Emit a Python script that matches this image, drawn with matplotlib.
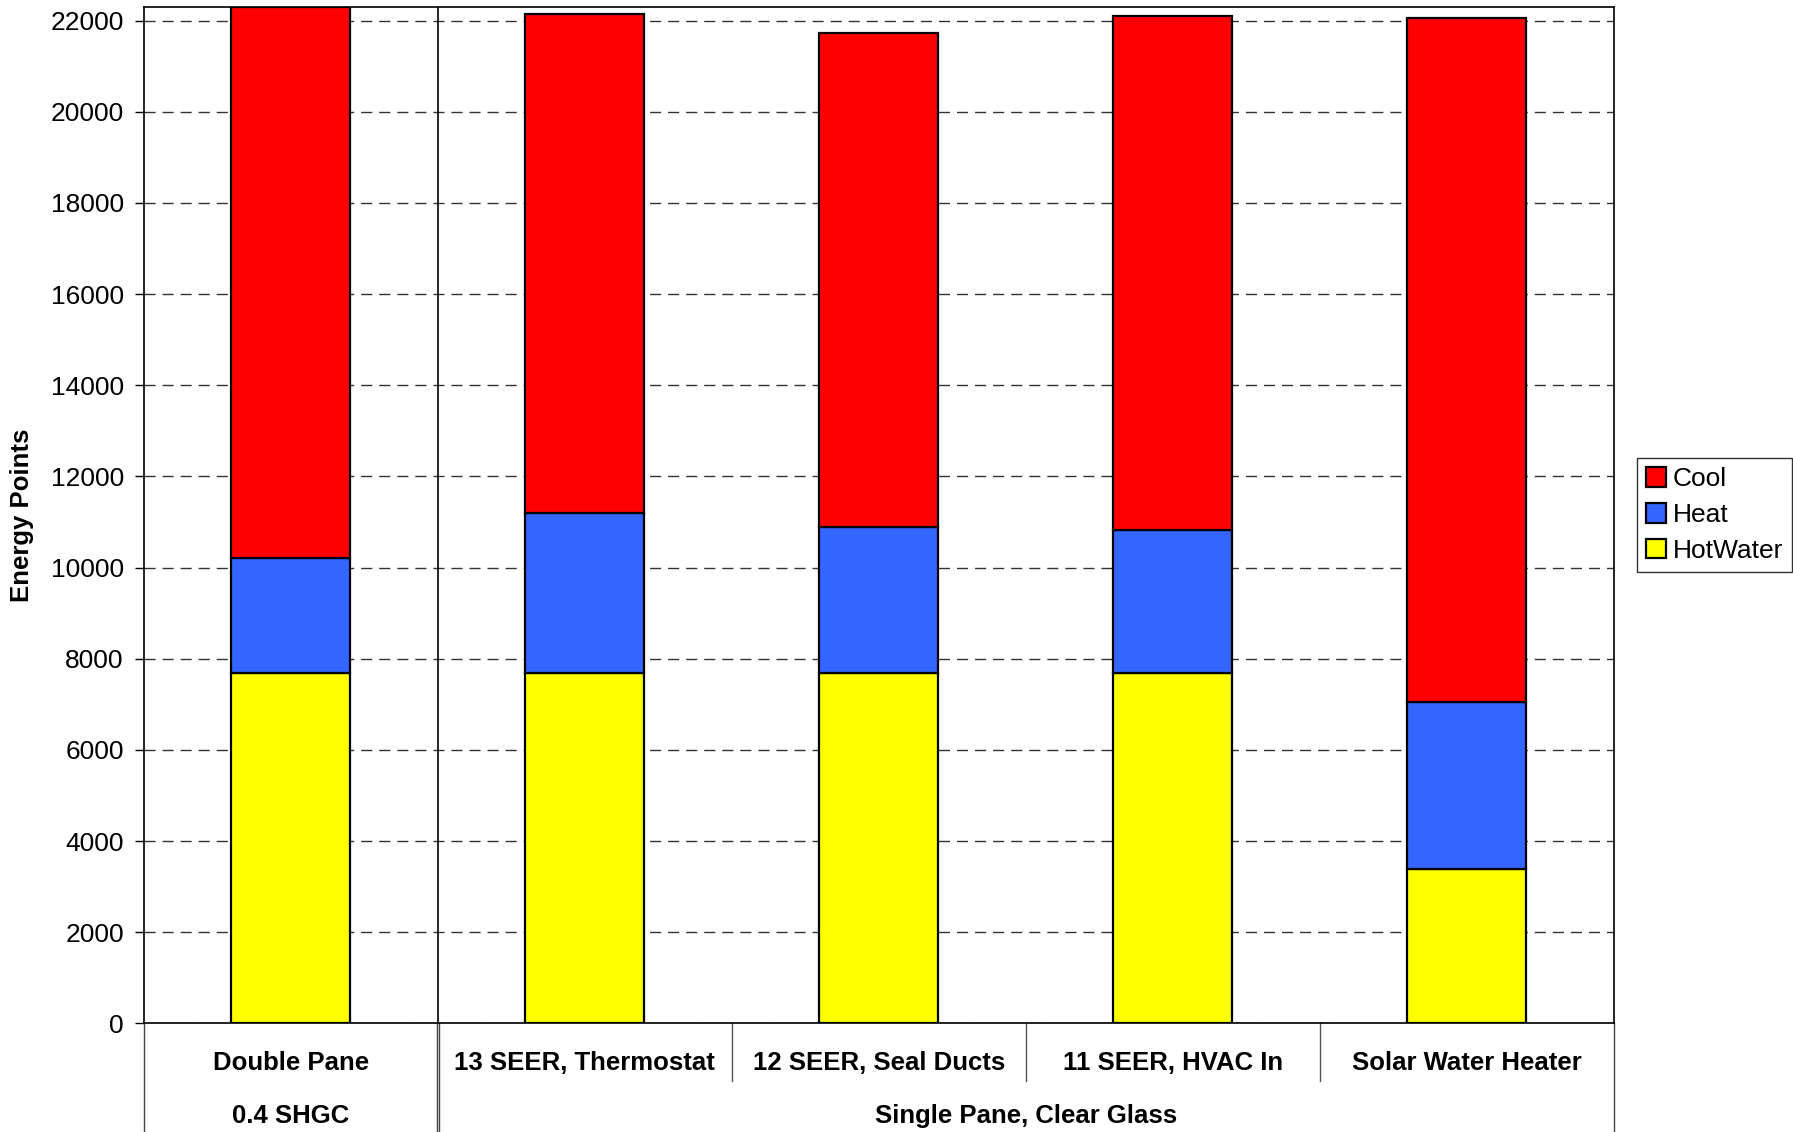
import matplotlib
matplotlib.use('Agg')
import matplotlib.pyplot as plt
import numpy as np

plt.rcParams['font.family'] = ['Liberation Sans', 'DejaVu Sans']

# upgrade options and their energy points per end use
options = ['Double Pane', '13 SEER, Thermostat', '12 SEER, Seal Ducts',
           '11 SEER, HVAC In', 'Solar Water Heater']
groups = ['0.4 SHGC', 'Single Pane, Clear Glass']
group_spans = [(0, 0), (1, 4)]

hot_water = np.array([7690, 7690, 7690, 7690, 3390])
heat = np.array([2510, 3510, 3190, 3140, 3660])
cool = np.array([12100, 10940, 10840, 11280, 15010])

fig = plt.figure(figsize=(17.93, 11.32), dpi=100)
ax = fig.add_axes([0.0803, 0.0959, 0.8197, 0.898])

x = np.arange(len(options))
w = 0.405
bar_kw = dict(width=w, edgecolor='black', linewidth=1.6, zorder=3)
ax.bar(x, hot_water, color='#FFFF00', label='HotWater', **bar_kw)
ax.bar(x, heat, bottom=hot_water, color='#3366FF', label='Heat', **bar_kw)
ax.bar(x, cool, bottom=hot_water + heat, color='#FF0000', label='Cool', **bar_kw)

ax.set_xlim(-0.5, len(options) - 0.5)
ax.set_ylim(0, 22300)
ax.set_yticks(np.arange(0, 22001, 2000))
ax.yaxis.grid(True, linestyle=(0, (8, 5)), color='#333333', linewidth=1.0, zorder=0)
ax.set_axisbelow(True)
ax.tick_params(axis='y', labelsize=19, length=6.5, width=1.0, pad=8, direction='out')
ax.set_ylabel('Energy Points', fontsize=18.5, fontweight='bold')
ax.yaxis.set_label_coords(-0.075, 0.5)

for s in ax.spines.values():
    s.set_linewidth(1.2)
    s.set_color('black')

# first row of category labels
ax.set_xticks(x)
ax.set_xticklabels(options, fontsize=18.5, fontweight='bold')
ax.tick_params(axis='x', length=0, pad=20)

trans = ax.get_xaxis_transform()
# boundary between the glazing groups
ax.axvline(0.5, color='black', linewidth=1.2, zorder=4)

# separators under the axis
for b in [1.5, 2.5, 3.5]:
    ax.plot([b, b], [0, -0.057], transform=trans, color='#555555',
            linewidth=1.0, clip_on=False)
for b, off in [(-0.5, 0), (0.5, -0.004), (0.5, 0.004), (4.5, 0)]:
    ax.plot([b + off, b + off], [0, -0.12], transform=trans, color='#444444',
            linewidth=1.0, clip_on=False)

# second row: group labels
for g, (a, b) in zip(groups, group_spans):
    ax.text((a + b) / 2, -0.091, g, transform=trans, ha='center', va='center',
            fontsize=18.5, fontweight='bold')

handles, labels = ax.get_legend_handles_labels()
leg = fig.legend(handles[::-1], labels[::-1], loc='center left',
                 bbox_to_anchor=(0.913, 0.545), fontsize=19, frameon=True,
                 fancybox=False, edgecolor='black', handlelength=0.75,
                 handleheight=0.75, handletextpad=0.25, borderpad=0.35,
                 labelspacing=0.45, borderaxespad=0)
leg.get_frame().set_linewidth(1.0)

fig.savefig('out.png', dpi=100)
